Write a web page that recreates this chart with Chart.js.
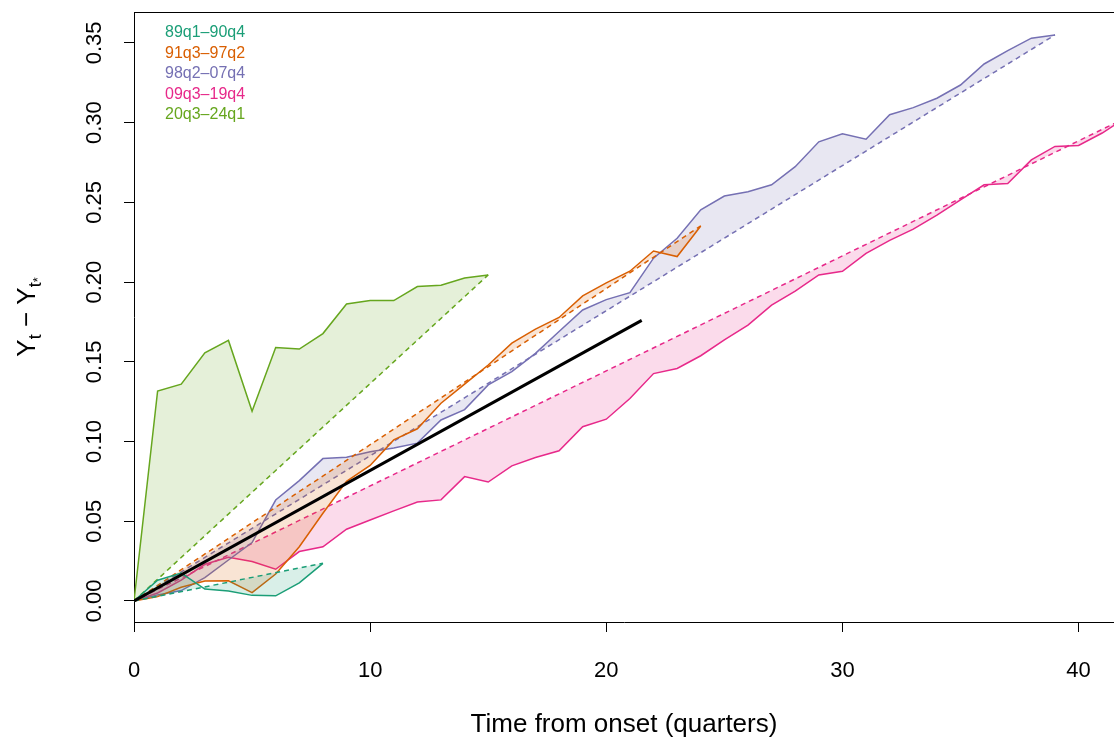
<!DOCTYPE html>
<html><head><meta charset="utf-8">
<script src="https://cdn.jsdelivr.net/npm/chart.js@4.4.1/dist/chart.umd.min.js"></script>
<style>html,body{margin:0;padding:0;background:#fff}</style>
</head><body>
<canvas id="c" width="1114" height="740"></canvas>
<script>
// ---- data ----
const seriesLabels = ['89q1\u201390q4', '91q3\u201397q2', '98q2\u201307q4', '09q3\u201319q4', '20q3\u201324q1'];
const seriesColors = ['#1B9E77', '#D95F02', '#7570B3', '#E7298A', '#66A61E'];
const fillColors = ['rgba(27,158,119,0.17)', 'rgba(217,95,2,0.17)', 'rgba(117,112,179,0.17)', 'rgba(231,41,138,0.17)', 'rgba(102,166,30,0.17)'];

const s89 = [0, 0.013, 0.0175, 0.0075, 0.0063, 0.0035, 0.0032, 0.0113, 0.0236];
const s91 = [0, 0.0027, 0.0086, 0.0125, 0.0127, 0.0052, 0.0169, 0.034, 0.055, 0.075, 0.085, 0.101, 0.108,
             0.124, 0.136, 0.148, 0.1617, 0.1705, 0.1778, 0.1913, 0.1995, 0.2068, 0.2195, 0.216, 0.2352];
const s98 = [0, 0.0038, 0.0065, 0.0146, 0.0257, 0.0366, 0.0633, 0.0755, 0.0893, 0.0901, 0.0936, 0.096, 0.099,
             0.1135, 0.120, 0.1355, 0.1438, 0.1553, 0.169, 0.1825, 0.189, 0.1934, 0.215, 0.2275, 0.2453, 0.254,
             0.2567, 0.261, 0.2724, 0.288, 0.293, 0.2896, 0.305, 0.3094, 0.3153, 0.3236, 0.3368, 0.3452, 0.353, 0.355];
const s09 = [0, 0.005, 0.013, 0.023, 0.0274, 0.0247, 0.0199, 0.031, 0.034, 0.045, 0.0508, 0.0565, 0.062, 0.0634,
             0.078, 0.0746, 0.0847, 0.090, 0.0942, 0.1093, 0.114, 0.127, 0.1426, 0.1458, 0.1538, 0.1637, 0.173,
             0.1855, 0.1943, 0.2045, 0.2068, 0.218, 0.2262, 0.2332, 0.242, 0.2515, 0.261, 0.2618, 0.2766, 0.2851,
             0.2857, 0.2935, 0.303];
const s20 = [0, 0.1317, 0.136, 0.1556, 0.1634, 0.119, 0.1589, 0.158, 0.1677, 0.1863, 0.1884, 0.1884, 0.1972,
             0.198, 0.2026, 0.2045];
const seriesValues = [s89, s91, s98, s09, s20];

const averageX = [0, 21.5];
const averageY = [0, 0.176];

const xTicks = [0, 10, 20, 30, 40];
const yTicks = [0, 0.05, 0.10, 0.15, 0.20, 0.25, 0.30, 0.35];
const yTickLabels = ['0.00', '0.05', '0.10', '0.15', '0.20', '0.25', '0.30', '0.35'];
const xTitle = 'Time from onset (quarters)';

// ---- build datasets ----
const FONT = "'Liberation Sans', Arial, Helvetica, sans-serif";
Chart.defaults.font.family = FONT;

function pts(arr) { return arr.map((v, i) => ({ x: i, y: v })); }
function chordPts(arr) { const n = arr.length - 1; return [{ x: 0, y: arr[0] }, { x: n, y: arr[n] }]; }

const datasets = [];
seriesValues.forEach((arr, k) => {
  datasets.push({
    label: seriesLabels[k],
    data: pts(arr),
    borderColor: seriesColors[k],
    borderWidth: 1.5,
    pointRadius: 0,
    tension: 0,
    fill: { target: '+1', above: fillColors[k], below: fillColors[k] }
  });
  datasets.push({
    label: seriesLabels[k] + ' chord',
    data: chordPts(arr),
    borderColor: seriesColors[k],
    borderWidth: 1.5,
    borderDash: [5, 4],
    pointRadius: 0,
    fill: false
  });
});
datasets.push({
  label: 'average',
  data: averageX.map((x, i) => ({ x: x, y: averageY[i] })),
  borderColor: '#000',
  borderWidth: 3,
  pointRadius: 0,
  fill: false,
  order: -1
});

// ---- decorations drawn with the scales ----
const decor = {
  id: 'decor',
  afterDraw(chart) {
    const ctx = chart.ctx, ca = chart.chartArea, ys = chart.scales.y;
    ctx.save();
    // top frame line
    ctx.strokeStyle = '#000'; ctx.lineWidth = 1;
    ctx.beginPath(); ctx.moveTo(ca.left, Math.round(ca.top) + 0.5); ctx.lineTo(chart.width, Math.round(ca.top) + 0.5); ctx.stroke();
    // y tick labels (rotated, R style)
    ctx.fillStyle = '#000';
    ctx.font = '22px ' + FONT;
    ctx.textAlign = 'center'; ctx.textBaseline = 'alphabetic';
    yTicks.forEach((v, i) => {
      const py = ys.getPixelForValue(v);
      ctx.save(); ctx.translate(101, py); ctx.rotate(-Math.PI / 2);
      ctx.fillText(yTickLabels[i], 0, 0); ctx.restore();
    });
    // y title  Y_t − Y_t*
    const big = '26px ' + FONT, sub = '18px ' + FONT, subsub = '13px ' + FONT;
    const parts = [
      { t: 'Y', f: big, dy: 0 }, { t: 't', f: sub, dy: 6 }, { t: ' \u2212 ', f: big, dy: 0 },
      { t: 'Y', f: big, dy: 0 }, { t: 't', f: sub, dy: 6 }, { t: '*', f: subsub, dy: 7 }
    ];
    let total = 0;
    parts.forEach(p => { ctx.font = p.f; p.w = ctx.measureText(p.t).width; total += p.w; });
    const cy = (ca.top + ca.bottom) / 2;
    ctx.save(); ctx.translate(35, cy); ctx.rotate(-Math.PI / 2);
    ctx.textAlign = 'left';
    let cx = -total / 2;
    parts.forEach(p => { ctx.font = p.f; ctx.fillText(p.t, cx, p.dy); cx += p.w; });
    ctx.restore();
    // legend text
    ctx.font = '16px ' + FONT; ctx.textAlign = 'left'; ctx.textBaseline = 'middle';
    seriesLabels.forEach((lab, i) => {
      ctx.fillStyle = seriesColors[i];
      ctx.fillText(lab, 165, 33 + i * 20.5);
    });
    ctx.restore();
  }
};

new Chart(document.getElementById('c'), {
  type: 'line',
  data: { datasets },
  plugins: [decor],
  options: {
    responsive: false,
    animation: false,
    layout: { padding: { top: 12, left: 0, right: 0, bottom: 0 } },
    plugins: { legend: { display: false }, tooltip: { enabled: false } },
    scales: {
      x: {
        type: 'linear', min: 0, max: 41.5,
        afterBuildTicks: s => { s.ticks = xTicks.map(v => ({ value: v })); },
        afterFit: s => { s.height = 118; s.paddingLeft = 0; s.paddingRight = 0; },
        ticks: { color: '#000', font: { size: 22 }, padding: 26, maxRotation: 0, autoSkip: false },
        grid: { drawOnChartArea: false, drawTicks: true, tickLength: 10, color: '#000', lineWidth: 1 },
        border: { display: true, color: '#000', width: 1 },
        title: { display: true, text: xTitle, color: '#000', font: { size: 26 }, padding: { top: 0, bottom: 0 } }
      },
      y: {
        type: 'linear', min: -0.0132, max: 0.3694,
        afterBuildTicks: s => { s.ticks = yTicks.map(v => ({ value: v })); },
        afterFit: s => { s.width = 134; s.paddingTop = 0; s.paddingBottom = 0; },
        ticks: { display: false },
        grid: { drawOnChartArea: false, drawTicks: true, tickLength: 10, color: '#000', lineWidth: 1 },
        border: { display: true, color: '#000', width: 1 }
      }
    }
  }
});
</script>
</body></html>
